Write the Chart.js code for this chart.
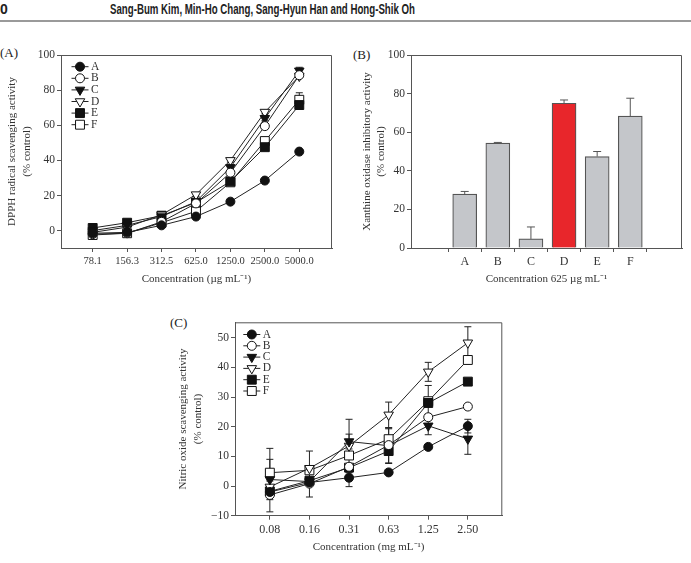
<!DOCTYPE html>
<html lang="en">
<head>
<meta charset="UTF-8">
<title>Antioxidant activity</title>
<script src="https://cdn.jsdelivr.net/npm/chart.js"></script>
<style>
  body { margin: 0; background: #fff; width: 691px; height: 563px; position: relative; overflow: hidden; font-family: "Liberation Serif", serif; }
  .hdr { position: absolute; top: 1px; font: bold 14px "Liberation Sans", Arial, sans-serif; white-space: nowrap; transform-origin: 0 0; color: #222; }
  .rule { position: absolute; left: 0; top: 20px; width: 691px; height: 2px; background: #9a9a9a; }
  .tag { position: absolute; font-size: 13px; color: #222; }
  canvas { position: absolute; }
</style>
</head>
<body>
  <div class="hdr" style="left:0">0</div>
  <div class="hdr" id="authors" style="left:110px">Sang-Bum Kim, Min-Ho Chang, Sang-Hyun Han and Hong-Shik Oh</div>
  <div class="rule"></div>
  <div class="tag" style="left:0;top:45px">(A)</div>
  <div class="tag" style="left:353px;top:47px">(B)</div>
  <div class="tag" style="left:170px;top:315px">(C)</div>
  <canvas id="chartA" width="340" height="260" style="left:0;top:40px"></canvas>
  <canvas id="chartB" width="351" height="260" style="left:340px;top:40px"></canvas>
  <canvas id="chartC" width="360" height="250" style="left:160px;top:310px"></canvas>
<script>
  // squeeze header to the narrow face used in the print
  const hdr = document.getElementById('authors');
  hdr.style.transform = 'scaleX(' + (305 / hdr.getBoundingClientRect().width) + ')';

  const sampleNames = ['A', 'B', 'C', 'D', 'E', 'F'];

  // (A) DPPH radical scavenging
  const dpphLabels = ['78.1', '156.3', '312.5', '625.0', '1250.0', '2500.0', '5000.0'];
  const dpphA = [-1.5, -1.0, 3.0, 8.0, 16.5, 28.5, 45.0];
  const dpphB = [-2.0, -1.5, 5.0, 15.5, 33.0, 59.5, 88.5];
  const dpphC = [0.0, 3.0, 8.0, 16.5, 36.0, 64.0, 91.0];
  const dpphD = [-1.0, 2.0, 9.0, 20.5, 40.0, 67.5, 88.0];
  const dpphE = [1.5, 4.5, 8.5, 16.0, 28.0, 47.5, 71.5];
  const dpphF = [-2.5, -1.5, 4.5, 11.0, 27.5, 51.0, 74.5];
  const dpphErrA = [3.2, 1.0, 1.0, 1.0, 1.0, 1.0, 1.0];
  const dpphErrB = [1.0, 1.0, 1.0, 1.0, 1.0, 1.5, 1.0];
  const dpphErrC = [1.0, 1.0, 1.0, 1.0, 1.5, 1.5, 2.0];
  const dpphErrD = [1.0, 1.0, 1.0, 1.0, 1.0, 1.0, 1.0];
  const dpphErrE = [1.0, 1.0, 1.0, 1.0, 1.0, 1.0, 1.5];
  const dpphErrF = [2.5, 1.0, 1.0, 1.0, 1.0, 1.0, 4.0];

  // (B) xanthine oxidase inhibition at 625 ug/mL
  const xoValues = [27.9, 54.4, 4.7, 75.0, 47.4, 68.3];
  const xoErr = [1.4, 0.3, 6.2, 1.7, 2.6, 9.3];
  const xoColors = ['#c4c6ca', '#c4c6ca', '#c4c6ca', '#e8262b', '#c4c6ca', '#c4c6ca'];

  // (C) nitric oxide scavenging
  const noLabels = ['0.08', '0.16', '0.31', '0.63', '1.25', '2.50'];
  const noA = [-2.0, 1.2, 2.8, 4.6, 13.2, 20.2];
  const noB = [-3.0, 0.8, 6.5, 13.8, 23.2, 26.8];
  const noC = [2.2, 1.5, 15.0, 13.6, 20.3, 15.9];
  const noD = [-0.3, 6.0, 13.5, 24.0, 38.5, 48.3];
  const noE = [-1.8, 1.8, 6.2, 11.8, 28.0, 35.2];
  const noF = [4.5, 5.3, 10.3, 15.8, 28.6, 42.5];
  const noErrA = [0.5, 0.5, 3.0, 0.5, 0.5, 2.3];
  const noErrB = [5.7, 4.5, 1.0, 1.0, 1.0, 1.0];
  const noErrC = [6.8, 1.0, 2.5, 6.0, 3.0, 5.2];
  const noErrD = [2.0, 5.8, 9.0, 4.3, 3.2, 5.4];
  const noErrE = [1.0, 1.0, 1.0, 4.0, 1.0, 1.0];
  const noErrF = [8.2, 1.0, 1.0, 3.5, 5.3, 1.0];

  const markers = [
    { style: 'circle', fill: '#111', r: 4.5, rot: 0 },
    { style: 'circle', fill: '#fff', r: 4.5, rot: 0 },
    { style: 'triangle', fill: '#111', r: 5.5, rot: 180 },
    { style: 'triangle', fill: '#fff', r: 5.5, rot: 180 },
    { style: 'rect', fill: '#111', r: 6.3, rot: 0 },
    { style: 'rect', fill: '#fff', r: 6.3, rot: 0 }
  ];

  const axisColor = '#555';
  const textColor = '#333';
  const serif = 'Liberation Serif';
  const titleFont = { family: serif, size: 11, lineHeight: 1.35 };

  function lineSets(series, errs) {
    return series.map((vals, i) => ({
      label: sampleNames[i],
      data: vals.map((v, j) => ({ x: j, y: v })),
      errors: errs[i],
      borderColor: '#222',
      borderWidth: 1,
      pointStyle: markers[i].style,
      pointRotation: markers[i].rot,
      pointRadius: markers[i].r,
      pointBackgroundColor: markers[i].fill,
      pointBorderColor: '#111',
      pointBorderWidth: 1
    }));
  }

  function xAxis(labels, min, max, h, title, padBottom, size) {
    return {
      type: 'linear', min: min, max: max,
      afterBuildTicks: s => { s.ticks = labels.map((_, i) => ({ value: i })); },
      afterFit: s => { s.height = h; },
      grid: { drawOnChartArea: false, tickLength: 4, color: axisColor },
      border: { color: axisColor },
      ticks: { callback: v => labels[v] ?? '', font: { family: serif, size: size }, color: textColor, padding: 3, maxRotation: 0, autoSkip: false },
      title: { display: true, text: title, font: titleFont, color: textColor, padding: { top: 0, bottom: padBottom } }
    };
  }

  function yAxis(min, max, ticks, w, title, padTop) {
    return {
      min: min, max: max,
      afterBuildTicks: s => { s.ticks = ticks.map(v => ({ value: v })); },
      afterFit: s => { s.width = w; },
      grid: { drawOnChartArea: false, tickLength: 4, color: axisColor },
      border: { color: axisColor },
      ticks: { callback: v => (v < 0 ? '\u2212' + Math.abs(v) : String(v)), font: { family: serif, size: 11.5 }, color: textColor, padding: 2 },
      title: { display: true, text: title, font: titleFont, color: textColor, padding: { top: padTop, bottom: 0 } }
    };
  }

  function drawMarker(ctx, m, x, y) {
    ctx.save();
    ctx.translate(x, y);
    ctx.rotate(m.rot * Math.PI / 180);
    ctx.beginPath();
    if (m.style === 'circle') {
      ctx.arc(0, 0, m.r, 0, Math.PI * 2);
    } else if (m.style === 'rect') {
      const s = m.r * Math.SQRT1_2;
      ctx.rect(-s, -s, 2 * s, 2 * s);
    } else {
      ctx.moveTo(0, -m.r);
      ctx.lineTo(m.r * 0.866, m.r * 0.5);
      ctx.lineTo(-m.r * 0.866, m.r * 0.5);
      ctx.closePath();
    }
    ctx.fillStyle = m.fill;
    ctx.strokeStyle = '#111';
    ctx.lineWidth = 1;
    ctx.fill();
    ctx.stroke();
    ctx.restore();
  }

  // box frame, error bars and inset legend
  const extras = {
    id: 'extras',
    beforeDatasetsDraw(chart, args, opts) {
      if (opts.barErrors) return;
      const ctx = chart.ctx;
      ctx.save();
      ctx.strokeStyle = '#222';
      ctx.lineWidth = 1;
      chart.data.datasets.forEach((ds, i) => {
        const meta = chart.getDatasetMeta(i);
        ds.data.forEach((p, j) => {
          const e = ds.errors[j];
          const x = meta.data[j].x;
          const y1 = chart.scales.y.getPixelForValue(p.y + e);
          const y2 = chart.scales.y.getPixelForValue(p.y - e);
          ctx.beginPath();
          ctx.moveTo(x, y1); ctx.lineTo(x, y2);
          ctx.moveTo(x - 3.5, y1); ctx.lineTo(x + 3.5, y1);
          ctx.moveTo(x - 3.5, y2); ctx.lineTo(x + 3.5, y2);
          ctx.stroke();
        });
      });
      ctx.restore();
    },
    afterDatasetsDraw(chart, args, opts) {
      const ctx = chart.ctx;
      const a = chart.chartArea;
      ctx.save();
      if (opts.barErrors) {
        ctx.strokeStyle = '#555';
        ctx.lineWidth = 1;
        const meta = chart.getDatasetMeta(0);
        chart.data.datasets[0].data.forEach((p, j) => {
          const x = meta.data[j].x;
          const y0 = chart.scales.y.getPixelForValue(p.y);
          const y1 = chart.scales.y.getPixelForValue(p.y + opts.barErrors[j]);
          ctx.beginPath();
          ctx.moveTo(x, y0); ctx.lineTo(x, y1);
          ctx.moveTo(x - 4, y1); ctx.lineTo(x + 4, y1);
          ctx.stroke();
        });
      }
      ctx.strokeStyle = axisColor;
      ctx.lineWidth = 1;
      ctx.beginPath();
      ctx.moveTo(a.left, a.top + 0.5);
      ctx.lineTo(a.right - 0.5, a.top + 0.5);
      ctx.lineTo(a.right - 0.5, a.bottom);
      ctx.stroke();
      if (opts.legend) {
        const L = opts.legend;
        ctx.font = '11.5px "Liberation Serif"';
        ctx.textBaseline = 'middle';
        sampleNames.forEach((name, i) => {
          const y = a.top + L.dy + i * L.step;
          const x0 = a.left + L.dx;
          ctx.strokeStyle = '#222';
          ctx.beginPath();
          ctx.moveTo(x0, y); ctx.lineTo(x0 + 17, y);
          ctx.stroke();
          drawMarker(ctx, markers[i], x0 + 8.5, y);
          ctx.fillStyle = textColor;
          ctx.fillText(name, x0 + 19.5, y);
        });
      }
      ctx.restore();
    }
  };

  const common = { responsive: false, animation: false, events: [] };

  new Chart(document.getElementById('chartA'), {
    type: 'line',
    data: { datasets: lineSets([dpphA, dpphB, dpphC, dpphD, dpphE, dpphF],
                               [dpphErrA, dpphErrB, dpphErrC, dpphErrD, dpphErrE, dpphErrF]) },
    options: Object.assign({}, common, {
      layout: { padding: { top: 15, right: 8, left: 0, bottom: 0 } },
      plugins: { legend: { display: false }, tooltip: { enabled: false },
                 extras: { legend: { dx: 10.5, dy: 11.7, step: 11.6 } } },
      scales: {
        x: xAxis(dpphLabels, -0.92, 6.95, 52, 'Concentration (\u00b5g mL\u207b\u00b9)', 13, 10.5),
        y: yAxis(-9.9, 100, [0, 20, 40, 60, 80, 100], 61, ['DPPH radical scavenging activity', '(% control)'], 5)
      }
    }),
    plugins: [extras]
  });

  new Chart(document.getElementById('chartB'), {
    type: 'bar',
    data: { datasets: [{
      data: xoValues.map((v, i) => ({ x: i, y: v })),
      backgroundColor: xoColors,
      borderColor: '#555',
      borderWidth: 1.2,
      barThickness: 24
    }] },
    options: Object.assign({}, common, {
      layout: { padding: { top: 15, right: 9, left: 0, bottom: 0 } },
      plugins: { legend: { display: false }, tooltip: { enabled: false },
                 extras: { barErrors: xoErr } },
      scales: {
        x: xAxis(sampleNames, -0.94, 5.88, 52, 'Concentration 625 \u00b5g mL\u207b\u00b9', 13.5, 12),
        y: yAxis(0, 100, [0, 20, 40, 60, 80, 100], 71, ['Xanthine oxidase inhibitory activity', '(% control)'], 19.3)
      }
    }),
    plugins: [extras]
  });

  new Chart(document.getElementById('chartC'), {
    type: 'line',
    data: { datasets: lineSets([noA, noB, noC, noD, noE, noF],
                               [noErrA, noErrB, noErrC, noErrD, noErrE, noErrF]) },
    options: Object.assign({}, common, {
      layout: { padding: { top: 12.3, right: 17.7, left: 0, bottom: 0 } },
      plugins: { legend: { display: false }, tooltip: { enabled: false },
                 extras: { legend: { dx: 8.3, dy: 12.2, step: 11.3 } } },
      scales: {
        x: xAxis(noLabels, -0.88, 5.87, 44.3, 'Concentration (mg mL\u207b\u00b9)', 5, 12),
        y: yAxis(-10, 55.2, [-10, 0, 10, 20, 30, 40, 50], 75, ['Nitric oxide scavenging activity', '(% control)'], 15.9)
      }
    }),
    plugins: [extras]
  });
</script>
</body>
</html>
